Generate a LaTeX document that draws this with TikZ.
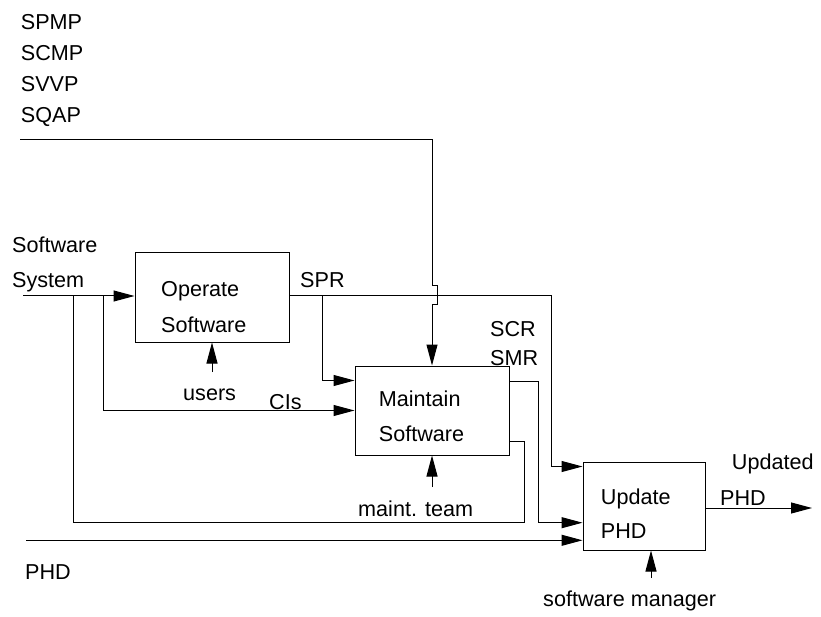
\documentclass[tikz,border=0pt]{standalone}
\usepackage{fontspec}
\setmainfont{Liberation Sans}
\usetikzlibrary{arrows.meta}

\begin{document}
\begin{tikzpicture}[x=1pt, y=-1pt,
every node/.style = {inner sep=0pt, font=\fontsize{21.6}{26}\selectfont},
box/.style = {draw, line width=1pt, minimum width=154pt, minimum height=89pt},
note/.style = {anchor=base west},
wire/.style = {line width=1pt},
flow/.style = {wire, -{Triangle[length=21pt,width=11pt]}}
]
\useasboundingbox (0,0) rectangle (821,617);

% activity boxes
\node [box] (operate) at (212,297.5) {};
\node [box] (maintain) at (432,410.5) {};
\node [box, minimum width=122pt, minimum height=88pt] (update) at (644,506) {};

\node [note] (optop) at (161,297) {Operate};
\node [note] (opbot) at (161,332) {Software};
\node [note] (mttop) at (378.7,406.7) {Maintain};
\node [note] (mtbot) at (378.7,441) {Software};
\node [note] (uptop) at (600.7,504) {Update};
\node [note] (upbot) at (600.7,538) {PHD};

% plans
\node [note] (spmp) at (20.7,29.5) {SPMP};
\node [note] (scmp) at (20.7,60.5) {SCMP};
\node [note] (svvp) at (20.7,91.5) {SVVP};
\node [note] (sqap) at (20.7,122.5) {SQAP};

% flow labels
\node [note] (swtop) at (12,252.7) {Software};
\node [note] (swbot) at (12,287.7) {System};
\node [note] (spr) at (300,287.7) {SPR};
\node [note] (users) at (183,400) {users};
\node [note] (cis) at (269,409) {CIs};
\node [note] (scr) at (490,336) {SCR};
\node [note] (smr) at (490,365) {SMR};
\node [note] (team) at (358,516.7) {maint. team};
\node [note] (updtop) at (731.7,469) {Updated};
\node [note] (updbot) at (720,505) {PHD};
\node [note] (mgr) at (543,606.7) {software manager};
\node [note] (phd) at (25,579) {PHD};

\coordinate (sysin) at (23,296);
\coordinate (sysbr) at (73,296);
\coordinate (cibr) at (103,296);
\coordinate (sprbr) at (322,296);
\coordinate (sprturn) at (551,296);
\coordinate (qapin) at (20,140);
\coordinate (phdin) at (26,540.3);
\coordinate (phdout) at (812,508);
\coordinate (usrin) at (212,372);
\coordinate (teamin) at (432,487);
\coordinate (mgrin) at (651,578);
\coordinate (smrturn) at (538.7,381.7);
\coordinate (swturn) at (524,441.7);
\coordinate (swlow) at (524,522.7);

\draw [flow] (sysin) -- (sysin -| operate.west);
\draw [flow] (cibr) |- (maintain.west);
\draw [flow] (sprbr) |- ([yshift=-15pt]maintain.north west);
\draw [flow] (operate.east |- sysin) -- (sprturn) |- ([yshift=-5pt]update.north west);
\draw [flow] (qapin) -| ([yshift=10pt]sysin -| maintain.north) -- ++(5.5,0) -- ++(0,19) -- ++(-5.5,0) -- (maintain.north);
\draw [flow] (smrturn -| maintain.east) -- (smrturn) |- ([yshift=-16.7pt]update.west);
\draw [wire] (swturn -| maintain.east) -- (swturn) -- (swlow) -| (sysbr);
\draw [flow] (phdin) -- (phdin -| update.west);
\draw [flow] (update.east |- phdout) -- (phdout);
\draw [flow] (usrin) -- (operate.south);
\draw [flow] (teamin) -- (maintain.south);
\draw [flow] (mgrin) -- (mgrin |- update.south);

\end{tikzpicture}
\end{document}
